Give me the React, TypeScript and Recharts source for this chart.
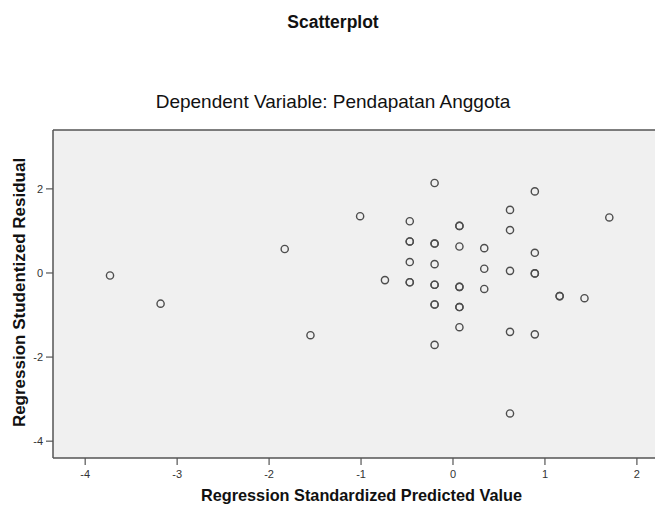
import React from 'react';
import { ScatterChart, Scatter, XAxis, YAxis, CartesianGrid, ReferenceLine } from 'recharts';

// Regression standardized predicted value (x) and studentized residual (y)
const predicted = [
  -3.73, -3.18, -1.83, -1.55, -1.01, -0.74,
  -0.47, -0.47, -0.47, -0.47, -0.47, -0.47,
  -0.2, -0.2, -0.2, -0.2, -0.2, -0.2, -0.2, -0.2, -0.2,
  0.07, 0.07, 0.07, 0.07, 0.07, 0.07, 0.07, 0.07,
  0.34, 0.34, 0.34,
  0.62, 0.62, 0.62, 0.62, 0.62,
  0.89, 0.89, 0.89, 0.89, 0.89,
  1.16, 1.16, 1.43, 1.7,
];
const residual = [
  -0.06, -0.73, 0.57, -1.48, 1.35, -0.17,
  1.23, 0.75, 0.75, 0.26, -0.22, -0.22,
  2.14, 0.7, 0.7, 0.21, -0.28, -0.28, -0.75, -0.75, -1.71,
  1.12, 1.12, 0.63, -0.33, -0.33, -0.81, -0.81, -1.29,
  0.59, 0.1, -0.38,
  1.5, 1.02, 0.05, -1.4, -3.34,
  1.94, 0.48, -0.01, -0.01, -1.46,
  -0.55, -0.55, -0.6, 1.32,
];

const xTicks = [-4, -3, -2, -1, 0, 1, 2];
const yTicks = [-4, -2, 0, 2];

const points = predicted.map((x, i) => ({ x, y: residual[i] }));

const FONT = "'Liberation Sans', Arial, sans-serif";
const AXIS = '#555';

const Ring = (props: any) => (
  <circle cx={props.cx} cy={props.cy} r={3.6} fill="none" stroke="#4d4d4d" strokeWidth={1.4} />
);

export default function App() {
  return (
    <div style={{ position: 'absolute', left: 0, top: 0, width: 655, height: 506, overflow: 'hidden', background: '#fff' }}>
      <ScatterChart width={672} height={506} margin={{ top: 130, right: 2, bottom: 0, left: 0 }}>
        <CartesianGrid horizontal={false} vertical={false} fill="#f0f0f0" />
        <ReferenceLine y={3.4} stroke={AXIS} strokeWidth={1.5} />
        <XAxis
          type="number"
          dataKey="x"
          domain={[-4.35, 2.36]}
          ticks={xTicks}
          allowDataOverflow
          height={48}
          tickSize={7}
          tickMargin={5}
          axisLine={{ stroke: AXIS, strokeWidth: 1.5 }}
          tickLine={{ stroke: AXIS, strokeWidth: 1.2 }}
          tick={{ fill: '#333', fontSize: 11, fontFamily: FONT }}
        />
        <YAxis
          type="number"
          dataKey="y"
          domain={[-4.4, 3.4]}
          ticks={yTicks}
          allowDataOverflow
          width={53}
          tickSize={7}
          tickMargin={3}
          axisLine={{ stroke: AXIS, strokeWidth: 1.5 }}
          tickLine={{ stroke: AXIS, strokeWidth: 1.2 }}
          tick={{ fill: '#333', fontSize: 11, fontFamily: FONT }}
        />
        <Scatter data={points} shape={Ring} isAnimationActive={false} />
      </ScatterChart>
      <svg width={655} height={506} style={{ position: 'absolute', left: 0, top: 0, pointerEvents: 'none' }}>
        <text x={333} y={28} textAnchor="middle" fontFamily={FONT} fontWeight="bold" fontSize={17.5} fill="#111">
          Scatterplot
        </text>
        <text x={333} y={107.5} textAnchor="middle" fontFamily={FONT} fontSize={19} fill="#111">
          Dependent Variable: Pendapatan Anggota
        </text>
        <text x={361.5} y={501} textAnchor="middle" fontFamily={FONT} fontWeight="bold" fontSize={16.3} fill="#111">
          Regression Standardized Predicted Value
        </text>
        <text
          x={25}
          y={292.5}
          textAnchor="middle"
          transform="rotate(-90 25 292.5)"
          fontFamily={FONT}
          fontWeight="bold"
          fontSize={17}
          fill="#111"
        >
          Regression Studentized Residual
        </text>
      </svg>
    </div>
  );
}
